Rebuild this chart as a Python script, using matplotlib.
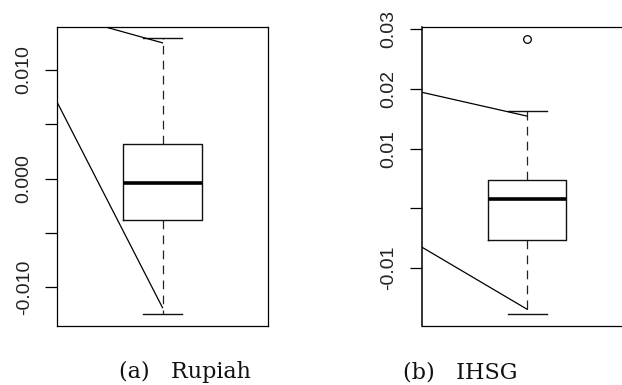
import matplotlib
matplotlib.use("Agg")
import matplotlib.pyplot as plt

# box statistics
panels = ["(a)   Rupiah", "(b)   IHSG"]
q1 = [-0.00378, -0.00537]
med = [-0.0004, 0.00156]
q3 = [0.00316, 0.0048]
whislo = [-0.01251, -0.01782]
whishi = [0.01292, 0.01633]
fliers = [[], [0.02842]]

ylims = [(-0.01359, 0.01396), (-0.01978, 0.0304)]
yticks = [[-0.010, -0.005, 0.000, 0.005, 0.010],
          [-0.01, 0.00, 0.01, 0.02, 0.03]]
ytick_labels = [["-0.010", "", "0.000", "", "0.010"],
                ["-0.01", "", "0.01", "0.02", "0.03"]]

# the two slanted guide lines in each panel: (x0, y0, x1, y1)
upper_guide = [(0.46, 0.0152, 1.0, 0.0125), (0.46, 0.01945, 1.0, 0.01544)]
lower_guide = [(0.46, 0.00705, 1.0, -0.0119), (0.46, -0.00653, 1.0, -0.01698)]

fig = plt.figure(figsize=(6.22, 3.85), dpi=100)
lefts = [57 / 622, 421.7 / 622]
caption_x = [119 / 622, 403 / 622]

for i in range(2):
    ax = fig.add_axes([lefts[i], 59 / 385, 211 / 622, 299 / 385])
    stats = [dict(med=med[i], q1=q1[i], q3=q3[i], whislo=whislo[i],
                  whishi=whishi[i], fliers=fliers[i])]
    ax.bxp(stats, positions=[1], widths=0.4,
           boxprops=dict(color="#111111", lw=1.0),
           medianprops=dict(color="black", lw=2.6, solid_capstyle="butt"),
           whiskerprops=dict(color="#222222", lw=0.9, dashes=(7, 5)),
           capprops=dict(color="#111111", lw=1.0),
           flierprops=dict(marker="o", markersize=5.5, markerfacecolor="none",
                           markeredgecolor="black", markeredgewidth=0.9),
           capwidths=0.2)
    for g in (upper_guide[i], lower_guide[i]):
        ax.plot([g[0], g[2]], [g[1], g[3]], color="black", lw=0.9)

    ax.set_xlim(0.46, 1.54)
    ax.set_ylim(*ylims[i])
    ax.set_xticks([])
    ax.set_yticks(yticks[i])
    ax.set_yticklabels(ytick_labels[i], rotation=90, va="center",
                       fontsize=14, family="Liberation Sans", color="#222222")
    ax.tick_params(axis="y", length=8.5, width=0.9, pad=9)
    for s in ["top", "right", "bottom"]:
        ax.spines[s].set_linewidth(0.9)
    ax.spines["left"].set_linewidth(1.1 if i == 1 else 0.9)

    fig.text(caption_x[i], 1 - 372 / 385, panels[i], ha="left", va="center",
             fontsize=16, family="DejaVu Serif", color="#111111")

fig.savefig("out.png", dpi=100)
